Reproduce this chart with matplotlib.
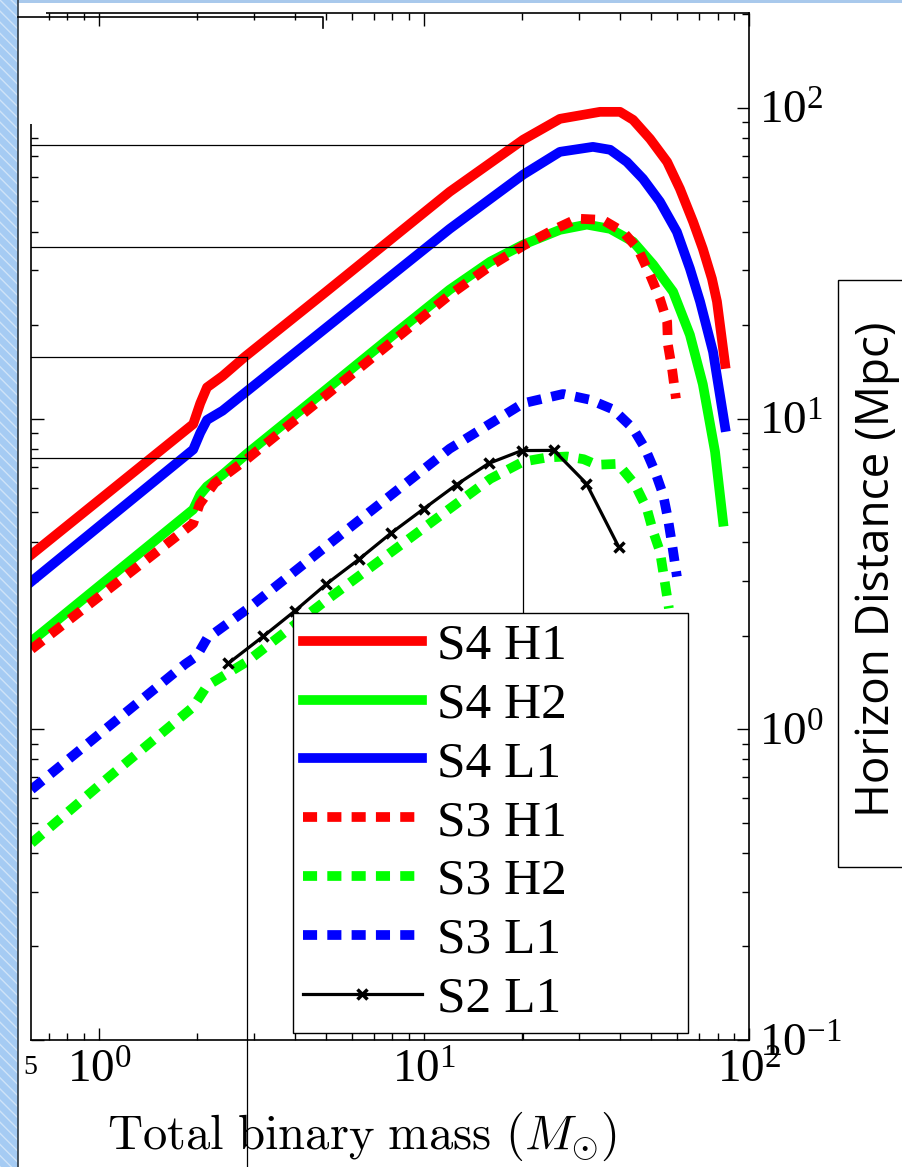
import numpy as np
import matplotlib.pyplot as plt
from matplotlib.patches import Rectangle
from matplotlib.lines import Line2D
from matplotlib.ticker import LogLocator, NullFormatter

plt.rcParams['font.family'] = ['Liberation Serif', 'DejaVu Serif']
plt.rcParams['mathtext.fontset'] = 'stix'

# horizon distance (Mpc) vs total binary mass (Msun)
s4h1_m = [0.62, 1.95, 2.05, 2.15, 2.4, 2.81, 5.0, 12.0, 20.2, 26.2, 34.8, 40.1, 44.0, 49.6, 56.0,
          61.3, 67.3, 72.1, 76.9, 79.7, 84.4]
s4h1_d = [3.65, 9.6, 11.2, 12.6, 13.7, 15.8, 25.6, 53.7, 79.0, 92.2, 97.1, 97.1, 91.5, 79.5, 67.0,
          54.9, 43.0, 35.2, 28.2, 23.8, 15.0]

s4h2_m = [0.62, 1.95, 2.05, 2.15, 2.4, 2.85, 5.0, 8.0, 12.0, 16.0, 20.2, 26.2, 31.7, 37.4, 44.0,
          50.7, 58.4, 65.8, 72.1, 78.6, 83.2]
s4h2_d = [1.92, 5.1, 5.7, 6.05, 6.6, 7.7, 12.4, 18.5, 26.0, 32.0, 36.3, 40.5, 42.1, 40.8, 37.1,
          31.3, 25.6, 18.6, 12.9, 7.83, 4.66]

s4l1_m = [0.62, 1.95, 2.05, 2.15, 2.4, 5.0, 12.0, 20.2, 26.2, 33.1, 37.4, 42.1, 47.2, 53.2, 60.0,
          65.8, 70.7, 77.5, 84.4]
s4l1_d = [2.99, 7.95, 9.0, 9.9, 10.6, 19.6, 40.8, 61.0, 72.2, 74.9, 73.3, 67.0, 59.1, 49.9, 39.9,
          30.4, 23.8, 16.4, 9.4]

s3h1_m = [0.62, 1.95, 2.04, 2.27, 2.85, 5.0, 12.0, 16.0, 20.2, 25.0, 29.6, 35.5, 41.0, 45.5, 49.6,
          53.2, 56.0, 56.3, 58.0, 59.6]
s3h1_d = [1.81, 4.6, 5.3, 6.2, 7.4, 11.9, 25.0, 31.0, 36.0, 40.5, 44.0, 43.6, 39.9, 35.2, 29.0,
          24.3, 20.5, 17.3, 14.4, 11.6]

s3h2_m = [0.62, 1.08, 1.95, 2.15, 2.85, 5.0, 12.0, 16.0, 20.2, 24.0, 27.6, 31.0, 34.0, 39.5, 44.6,
          48.5, 50.7, 53.2, 56.7]
s3h2_d = [0.43, 0.706, 1.18, 1.38, 1.65, 2.6, 5.13, 6.4, 7.27, 7.5, 7.55, 7.4, 7.1, 7.15, 6.13,
          5.13, 4.33, 3.74, 2.45]

s3l1_m = [0.62, 1.84, 2.0, 2.15, 2.85, 5.0, 12.0, 20.2, 26.8, 32.4, 38.2, 44.0, 47.9, 51.4, 54.4,
          56.3, 58.0, 60.0]
s3l1_d = [0.64, 1.62, 1.72, 1.96, 2.43, 3.88, 8.0, 11.2, 12.0, 11.5, 10.7, 9.29, 8.01, 6.75, 5.70,
          4.77, 3.93, 3.10]

s2l1_m = [2.5, 3.2, 4.0, 5.0, 6.3, 7.9, 10.0, 12.6, 15.8, 20.0, 25.1, 31.6, 39.8]
s2l1_d = [1.63, 1.99, 2.40, 2.93, 3.52, 4.27, 5.13, 6.13, 7.17, 7.89, 7.9, 6.18, 3.85]

# thin reading-guide lines drawn over the plot
guide_m = [2.85, 20.2]
guide_d = [7.49, 15.8, 35.7, 76.0]

fig = plt.figure(figsize=(9.02, 11.67), dpi=100)
ax = fig.add_axes([31 / 902, 127 / 1167, 718 / 902, 1027 / 1167])

dash = (0, (1.45, 1.05))
ax.plot(s4h1_m, s4h1_d, color='#ff0000', lw=7, label='S4 H1')
ax.plot(s4h2_m, s4h2_d, color='#00ff00', lw=7, label='S4 H2')
ax.plot(s4l1_m, s4l1_d, color='#0000ff', lw=7, label='S4 L1')
ax.plot(s3h1_m, s3h1_d, color='#ff0000', lw=7, ls=dash, label='S3 H1')
ax.plot(s3h2_m, s3h2_d, color='#00ff00', lw=7, ls=dash, label='S3 H2')
ax.plot(s3l1_m, s3l1_d, color='#0000ff', lw=7, ls=dash, label='S3 L1')
ax.plot(s2l1_m, s2l1_d, color='black', lw=2.3, marker='x', ms=7, mew=2.5, label='S2 L1')

ax.set_xscale('log')
ax.set_yscale('log')
ax.set_xlim(0.618, 100)
ax.set_ylim(0.1, 202)

# guide lines (left end at the axis)
k = 0.9
ax.plot([0.618, guide_m[1]], [guide_d[3]] * 2, color='k', lw=k, zorder=6)
ax.plot([0.618, guide_m[1]], [guide_d[2]] * 2, color='k', lw=k, zorder=6)
ax.plot([0.618, guide_m[0]], [guide_d[1]] * 2, color='k', lw=k, zorder=6)
ax.plot([0.618, guide_m[0]], [guide_d[0]] * 2, color='k', lw=k, zorder=6)
ax.plot([guide_m[1]] * 2, [guide_d[3], 0.1], color='k', lw=k, zorder=6)
ax.plot([guide_m[0]] * 2, [guide_d[1], 0.035], color='k', lw=k, zorder=6, clip_on=False)

ax.xaxis.set_minor_locator(LogLocator(base=10, subs=np.arange(2, 10)))
ax.yaxis.set_minor_locator(LogLocator(base=10, subs=np.arange(2, 10)))
ax.xaxis.set_minor_formatter(NullFormatter())
ax.yaxis.set_minor_formatter(NullFormatter())
ax.tick_params(which='both', direction='in', top=True, bottom=True, left=True, right=True,
               labelleft=False, labelright=True, width=1)
ax.tick_params(which='major', length=9, labelsize=34, pad=7)
ax.tick_params(which='minor', length=5)
for s in ax.spines.values():
    s.set_linewidth(1.2)

ax.set_xlabel(r'$\mathrm{Total\ binary\ mass}\ (M_{\odot})$', fontsize=35, math_fontfamily='cm')
ax.xaxis.set_label_coords(0.461, -0.068)

leg = ax.legend(loc='lower left', bbox_to_anchor=(0.365, 0.007, 0.55, 0.409), mode='expand',
                borderaxespad=0, fontsize=37, handlelength=2.3, handletextpad=0.3,
                labelspacing=0.23, borderpad=0.2, fancybox=False, framealpha=1,
                edgecolor='black')
leg.get_frame().set_linewidth(1.0)
leg.set_zorder(10)

# right-hand label in its box
fig.text(877 / 902, 1 - 569 / 1167, 'Horizon Distance (Mpc)', family='Open Sans', fontsize=33,
         rotation=90, ha='center', va='center')
fig.add_artist(Rectangle((838 / 902, 1 - 867 / 1167), 0.2, (867 - 280) / 1167, fill=False,
                         ec='black', lw=1, transform=fig.transFigure))

# screen-capture leftovers: blue side strip, top band, stray lines
fig.add_artist(Rectangle((19 / 902, 1 - 124 / 1167), 27 / 902, 124 / 1167, fc='white', ec='none',
                         transform=fig.transFigure, zorder=20))
fig.add_artist(Rectangle((0, 0), 18 / 902, 1, fc='#a5cbf3', ec='#cfe3f8', lw=0, hatch='\\\\\\',
                         transform=fig.transFigure, zorder=21))
fig.add_artist(Line2D([18 / 902] * 2, [0, 1], color='#2f3a44', lw=1.2, transform=fig.transFigure,
                      zorder=22))
fig.add_artist(Rectangle((18 / 902, 1 - 3 / 1167), 1, 3 / 1167, fc='#a9c9ec', ec='none',
                         transform=fig.transFigure, zorder=21))
fig.add_artist(Line2D([18 / 902, 323 / 902, 323 / 902], [1 - 17 / 1167, 1 - 17 / 1167, 1 - 28 / 1167],
                      color='black', lw=1.2, transform=fig.transFigure, zorder=22))
fig.text(30 / 902, 1 - 1068 / 1167, '5', fontsize=20, ha='center', va='center', zorder=20)

fig.savefig('out.png', dpi=100)
